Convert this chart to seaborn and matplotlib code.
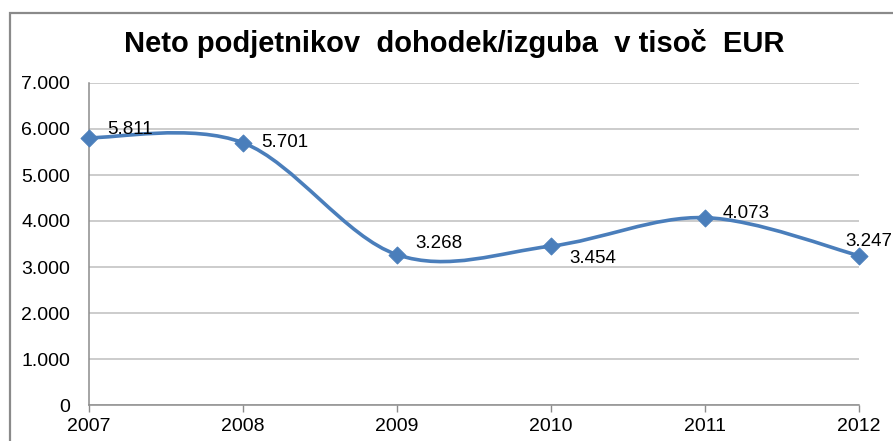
import matplotlib
matplotlib.use("Agg")
import matplotlib.pyplot as plt
import numpy as np
import pandas as pd
import seaborn as sns
from matplotlib.path import Path
from matplotlib.patches import PathPatch, Rectangle
from matplotlib.ticker import FuncFormatter

# data
years = ["2007", "2008", "2009", "2010", "2011", "2012"]
values = [5811, 5701, 3268, 3454, 4073, 3247]
labels = ["5.811", "5.701", "3.268", "3.454", "4.073", "3.247"]
# label offsets (points) relative to each marker
label_offsets = [(13, 6), (13, 0), (13, 8), (13, -9), (13, 3), (-10, 10)]

title = "Neto podjetnikov  dohodek/izguba  v tisoč  EUR"
blue = "#4A7EBB"

sns.set_theme(style="white")
plt.rcParams["font.family"] = ["Liberation Sans", "DejaVu Sans"]

df = pd.DataFrame({"year": years, "value": values})
df["x"] = np.arange(len(df))

fig = plt.figure(figsize=(8.93, 4.41), dpi=100)
ax = fig.add_axes([89 / 893, 36 / 441, 770 / 893, 322 / 441])

# smooth curve like Excel (bezier through the points)
xs = df["x"].to_numpy(dtype=float)
ys = df["value"].to_numpy(dtype=float)
verts = [(xs[0], ys[0])]
codes = [Path.MOVETO]
n = len(xs)
for i in range(n - 1):
    p0 = np.array([xs[i - 1], ys[i - 1]]) if i > 0 else np.array([xs[i], ys[i]])
    p1 = np.array([xs[i], ys[i]])
    p2 = np.array([xs[i + 1], ys[i + 1]])
    p3 = np.array([xs[i + 2], ys[i + 2]]) if i + 2 < n else p2
    c1 = p1 + (p2 - p0) / 6
    c2 = p2 - (p3 - p1) / 6
    verts += [tuple(c1), tuple(c2), tuple(p2)]
    codes += [Path.CURVE4] * 3
ax.add_patch(PathPatch(Path(verts, codes), facecolor="none", edgecolor=blue,
                       lw=2.6, zorder=3, capstyle="round", joinstyle="round"))

sns.scatterplot(data=df, x="x", y="value", marker="D", s=75, color=blue,
                edgecolor=blue, ax=ax, zorder=4, clip_on=False)

for i, row in df.iterrows():
    dx, dy = label_offsets[i]
    ax.annotate(labels[i], (row["x"], row["value"]), xytext=(dx, dy),
                textcoords="offset points", ha="left", va="center",
                fontsize=13.5, color="black", zorder=5, annotation_clip=False)

ax.set_xlim(0, n - 1)
ax.set_ylim(0, 7000)
ax.set_yticks(np.arange(0, 7001, 1000))
ax.yaxis.set_major_formatter(FuncFormatter(lambda v, p: f"{int(v):,}".replace(",", ".")))
ax.set_xticks(df["x"])
ax.set_xticklabels(years)
ax.set_xlabel("")
ax.set_ylabel("")
ax.grid(axis="y", color="#BEBEBE", lw=1.1)
ax.grid(axis="x", visible=False)
ax.set_axisbelow(True)
for side in ["top", "right"]:
    ax.spines[side].set_visible(False)
for side in ["left", "bottom"]:
    ax.spines[side].set_color("#8C8C8C")
    ax.spines[side].set_linewidth(1.1)
ax.tick_params(axis="x", bottom=True, length=5, width=1, color="#8C8C8C",
               labelsize=14, pad=4.5, labelcolor="black")
ax.tick_params(axis="y", left=False, length=0, labelsize=14, pad=13.5,
               labelcolor="black")

fig.text(454 / 893, 1 - 44 / 441, title, ha="center", va="center",
         fontsize=21, fontweight="bold", color="black")

# chart border (cropped at right and bottom)
fig.patches.append(Rectangle((9.5 / 893, -0.1), 1.2, 1 - 12.5 / 441 + 0.1,
                             transform=fig.transFigure, fill=False,
                             edgecolor="#8A8A8A", lw=1.6))

fig.savefig("out.png", dpi=100)
